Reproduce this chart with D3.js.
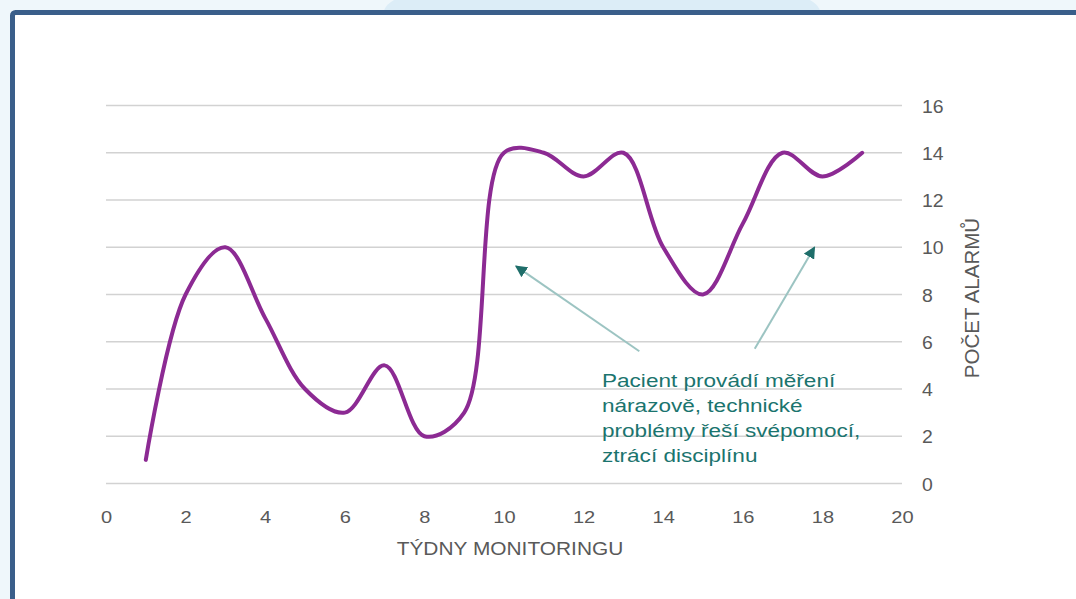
<!DOCTYPE html>
<html><head><meta charset="utf-8">
<script src="https://cdn.jsdelivr.net/npm/d3@7"></script>
<style>html,body{margin:0;padding:0;background:#eff7fb;overflow:hidden}</style>
</head><body>
<svg id="c" width="1076" height="599"></svg>
<script>
const weeks = [1,2,3,4,5,6,7,8,9,10,11,12,13,14,15,16,17,18,19];
const alarms = [1,8,10,7,4,3,5,2,3,14,14,13,14,10,8,11,14,13,14];
const xTicks = [0,2,4,6,8,10,12,14,16,18,20];
const yTicks = [0,2,4,6,8,10,12,14,16];
const xTitle = "TÝDNY MONITORINGU";
const yTitle = "POČET ALARMŮ";
const noteLines = ["Pacient provádí měření","nárazově, technické","problémy řeší svépomocí,","ztrácí disciplínu"];
const arrowTargets = [[10.3, 9.2],[17.8, 10]];
const arrowSources = [[13.4, 5.6],[16.3, 5.7]];

const FONT = "Liberation Sans, Arial, sans-serif";
const svg = d3.select("#c");
// background decorations
svg.append("ellipse").attr("cx",602).attr("cy",12).attr("rx",218).attr("ry",40).attr("fill","#dcedf7");
svg.append("rect").attr("x",12.5).attr("y",12.5).attr("width",1100).attr("height",640)
  .attr("rx",3).attr("fill","#ffffff").attr("stroke","#3a5e8a").attr("stroke-width",5);

const x = d3.scaleLinear().domain([0,20]).range([106,902]);
const y = d3.scaleLinear().domain([0,16]).range([483.5,105.5]);

// gridlines
svg.append("g").selectAll("line").data(yTicks).join("line")
  .attr("x1",x(0)).attr("x2",x(20)).attr("y1",d=>y(d)).attr("y2",d=>y(d))
  .attr("stroke","#d2d2d2").attr("stroke-width",1.5);

// y axis on right
const yAxis = d3.axisRight(y).tickValues(yTicks).tickSize(0).tickPadding(0);
const gy = svg.append("g").attr("transform","translate(922,0)").call(yAxis);
gy.select(".domain").remove();
gy.selectAll("text").attr("font-family",FONT).attr("font-size",18.5)
  .attr("fill","#595959").attr("dy","0.36em").attr("transform","scale(1.05,1)");

const xAxis = d3.axisBottom(x).tickValues(xTicks).tickSize(0).tickPadding(0);
const gx = svg.append("g").attr("transform","translate(0,511)").call(xAxis);
gx.select(".domain").remove();
gx.selectAll("text").attr("font-family",FONT).attr("font-size",17)
  .attr("fill","#595959").attr("dy","0.71em").attr("transform","scale(1.18,1)");

svg.append("text").attr("transform",`translate(${x(10)+6},555) scale(1.13,1)`).attr("text-anchor","middle")
  .attr("font-family",FONT).attr("font-size",18.5).attr("fill","#595959").text(xTitle);
svg.append("text").attr("transform","translate(979,298) rotate(-90)").attr("text-anchor","middle")
  .attr("font-family",FONT).attr("font-size",20.5).attr("fill","#595959").text(yTitle);

// line
const line = d3.line().x((d,i)=>x(weeks[i])).y(d=>y(d)).curve(d3.curveCatmullRom.alpha(0.5));
svg.append("path").attr("d",line(alarms)).attr("fill","none").attr("stroke","#8c2a93")
  .attr("stroke-width",4).attr("stroke-linejoin","round").attr("stroke-linecap","round");

// arrows
const defs = svg.append("defs");
defs.append("marker").attr("id","ah").attr("viewBox","0 0 10 10").attr("refX",9).attr("refY",5)
  .attr("markerWidth",12).attr("markerHeight",12).attr("markerUnits","userSpaceOnUse").attr("orient","auto")
  .append("path").attr("d","M0,0L10,5L0,10z").attr("fill","#1f6e6a");
arrowSources.forEach((s,i)=>{
  const t = arrowTargets[i];
  svg.append("line").attr("x1",x(s[0])).attr("y1",y(s[1])).attr("x2",x(t[0])).attr("y2",y(t[1]))
    .attr("stroke","#9cc4c2").attr("stroke-width",2).attr("marker-end","url(#ah)");
});

// note text
const note = svg.append("text").attr("transform","translate(602,0) scale(1.22,1)")
  .attr("font-family",FONT).attr("font-size",18.5).attr("fill","#1b746e");
noteLines.forEach((l,i)=>note.append("tspan").attr("x",0).attr("y",387+i*25).text(l));
</script>
</body></html>
